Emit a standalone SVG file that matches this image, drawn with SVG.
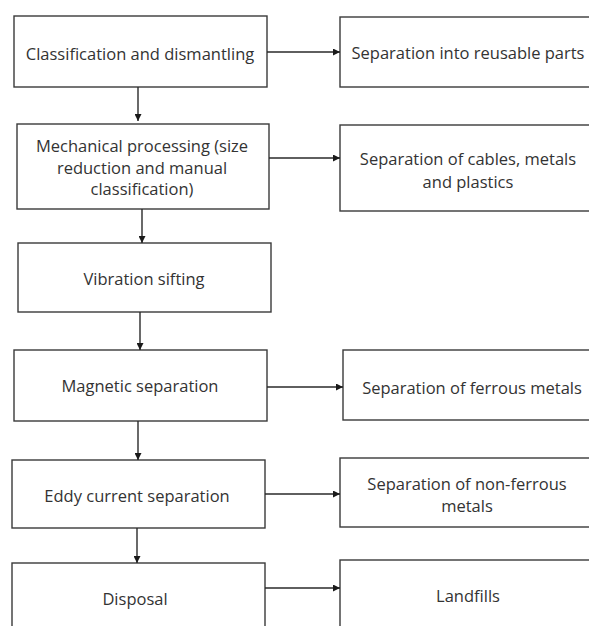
<svg xmlns="http://www.w3.org/2000/svg" width="589" height="626" viewBox="0 0 589 626">
<style>
.box{fill:#fff;stroke:#3a3a3a;stroke-width:1.4}
.t{font-family:"Open Sans","Liberation Sans",sans-serif;font-size:16.5px;fill:#333;text-anchor:middle;dominant-baseline:central}
.c{stroke:#2a2a2a;stroke-width:1.4;fill:none;marker-end:url(#ah)}
</style>
<defs>
<marker id="ah" viewBox="0 0 10 10" refX="10" refY="5" markerWidth="7" markerHeight="7" markerUnits="userSpaceOnUse" orient="auto">
<path d="M0,0 L10,5 L0,10 z" fill="#1a1a1a"/>
</marker>
</defs>
<rect width="589" height="626" fill="#fff"/>
<g id="n1"><rect class="box" x="14" y="16" width="253" height="71"/><text class="t" x="140" y="53">Classification and dismantling</text></g>
<g id="r1"><rect class="box" x="340" y="17" width="260" height="70"/><text class="t" x="468" y="52">Separation into reusable parts</text></g>
<g id="n2"><rect class="box" x="17" y="124" width="252" height="85"/><text class="t" x="142" y="145">Mechanical processing (size</text><text class="t" x="142" y="167">reduction and manual</text><text class="t" x="142" y="188">classification)</text></g>
<g id="r2"><rect class="box" x="340" y="125" width="260" height="86"/><text class="t" x="468" y="158">Separation of cables, metals</text><text class="t" x="468" y="181">and plastics</text></g>
<g id="n3"><rect class="box" x="18" y="243" width="253" height="69"/><text class="t" x="144" y="278">Vibration sifting</text></g>
<g id="n4"><rect class="box" x="14" y="350" width="253" height="71"/><text class="t" x="140" y="385">Magnetic separation</text></g>
<g id="r3"><rect class="box" x="343" y="350" width="260" height="70"/><text class="t" x="472" y="387">Separation of ferrous metals</text></g>
<g id="n5"><rect class="box" x="12" y="460" width="253" height="68"/><text class="t" x="137" y="495">Eddy current separation</text></g>
<g id="r4"><rect class="box" x="340" y="458" width="260" height="69"/><text class="t" x="467" y="483">Separation of non-ferrous</text><text class="t" x="467" y="505">metals</text></g>
<g id="n6"><rect class="box" x="12" y="563" width="253" height="80"/><text class="t" x="135" y="598">Disposal</text></g>
<g id="r5"><rect class="box" x="340" y="560" width="260" height="80"/><text class="t" x="468" y="595">Landfills</text></g>
<g id="connectors">
<line class="c" x1="267" y1="52" x2="340" y2="52"/>
<line class="c" x1="138" y1="87" x2="138" y2="121"/>
<line class="c" x1="269" y1="158" x2="340" y2="158"/>
<line class="c" x1="142" y1="209" x2="142" y2="243"/>
<line class="c" x1="140" y1="312" x2="140" y2="350"/>
<line class="c" x1="267" y1="387" x2="343" y2="387"/>
<line class="c" x1="138" y1="421" x2="138" y2="460"/>
<line class="c" x1="265" y1="494" x2="340" y2="494"/>
<line class="c" x1="137" y1="528" x2="137" y2="563"/>
<line class="c" x1="265" y1="588" x2="340" y2="588"/>
</g>
</svg>
